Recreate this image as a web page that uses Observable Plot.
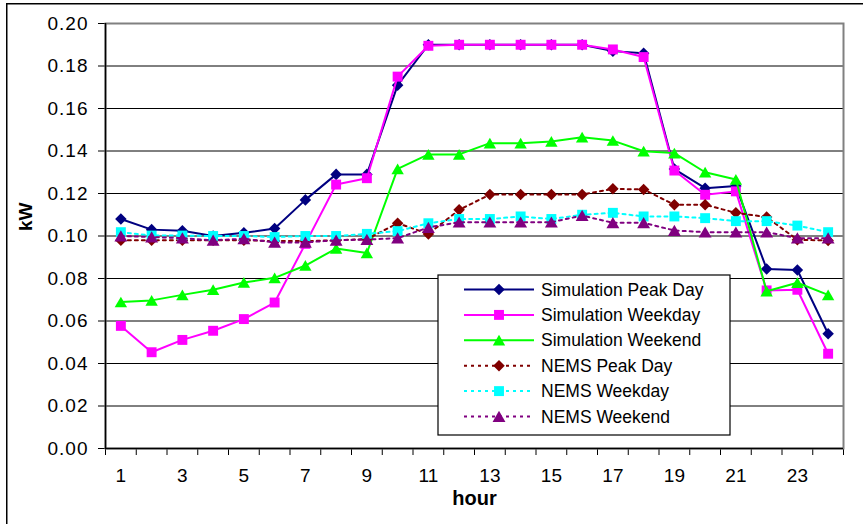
<!DOCTYPE html>
<html>
<head>
<meta charset="utf-8">
<script src="https://cdn.jsdelivr.net/npm/d3@7"></script>
<script src="https://cdn.jsdelivr.net/npm/@observablehq/plot@0.6"></script>
<style>
  html, body { margin: 0; padding: 0; background: #fff; overflow: hidden; }
  #wrap { position: relative; width: 863px; height: 524px; overflow: hidden; }
  svg { font-family: "Liberation Sans", Arial, sans-serif; display: block; }
</style>
</head>
<body>
<div id="wrap"></div>
<script>
const hours = [1,2,3,4,5,6,7,8,9,10,11,12,13,14,15,16,17,18,19,20,21,22,23,24];
const hourLabels = [1,3,5,7,9,11,13,15,17,19,21,23];
const yTicks = [0,0.02,0.04,0.06,0.08,0.10,0.12,0.14,0.16,0.18,0.20];

const simPeak    = [0.108,0.103,0.1025,0.100,0.1015,0.1035,0.117,0.129,0.129,0.171,0.190,0.190,0.190,0.190,0.190,0.190,0.187,0.186,0.1315,0.1225,0.1235,0.0845,0.084,0.054];
const simWeekday = [0.0577,0.0453,0.0511,0.0554,0.0609,0.0687,0.0963,0.1242,0.1272,0.175,0.1895,0.190,0.190,0.190,0.190,0.190,0.1878,0.1842,0.1308,0.1194,0.121,0.0744,0.0747,0.0446];
const simWeekend = [0.0689,0.0697,0.0723,0.0747,0.0781,0.0803,0.0861,0.0941,0.092,0.1316,0.1384,0.1384,0.1437,0.1437,0.1445,0.1465,0.1449,0.1399,0.139,0.130,0.1266,0.074,0.078,0.0723];
const nemsPeak    = [0.098,0.098,0.098,0.098,0.098,0.0976,0.0976,0.098,0.0985,0.106,0.101,0.1123,0.1195,0.1195,0.1195,0.1195,0.1222,0.1219,0.1147,0.1147,0.1109,0.1089,0.0982,0.0979];
const nemsWeekday = [0.1018,0.1002,0.1002,0.100,0.100,0.0995,0.100,0.100,0.101,0.1023,0.106,0.108,0.108,0.1092,0.108,0.110,0.1109,0.1092,0.1092,0.1084,0.107,0.107,0.1049,0.1018];
const nemsWeekend = [0.100,0.0995,0.099,0.098,0.0987,0.097,0.097,0.098,0.0983,0.099,0.104,0.1065,0.1065,0.1065,0.1065,0.1096,0.1062,0.1062,0.1026,0.1018,0.1018,0.1018,0.099,0.099];

const seriesNames = ["Simulation Peak Day","Simulation Weekday","Simulation Weekend","NEMS Peak Day","NEMS Weekday","NEMS Weekend"];
const seriesValues = [simPeak, simWeekday, simWeekend, nemsPeak, nemsWeekday, nemsWeekend];
const seriesColors = ["#000080","#FF00FF","#00FF00","#800000","#00FFFF","#800080"];
const seriesSymbols = ["diamond2","square","triangle","diamond2","square","triangle"];
const seriesDash = [null,null,null,"3,4","3,4","3,4"];
const seriesR = [5.2,5.6,4.6,5.2,5.6,4.8];

const series = seriesNames.map((name, i) => ({
  name, color: seriesColors[i], symbol: seriesSymbols[i], dash: seriesDash[i], r: seriesR[i],
  data: hours.map((h, j) => ({hour: h, value: seriesValues[i][j]}))
}));

const marks = [
  Plot.ruleY(yTicks.filter(v => v > 0 && v < 0.2), {stroke: "#000", strokeWidth: 1}),
  Plot.frame({stroke: "#808080", strokeWidth: 2}),
  Plot.ruleX([0.5], {stroke: "#000", strokeWidth: 1.5}),
  Plot.ruleY([0], {stroke: "#000", strokeWidth: 1.5})
];
for (const s of series) {
  marks.push(Plot.line(s.data, {x: "hour", y: "value", stroke: s.color, strokeWidth: 2, strokeDasharray: s.dash}));
  marks.push(Plot.dot(s.data, {x: "hour", y: "value", symbol: () => s.symbol, fill: s.color, stroke: "none", r: s.r, dy: s.symbol === "triangle" ? 1.7 : 0}));
}
marks.push(Plot.text(hourLabels, {x: d => d, frameAnchor: "bottom", dy: 33, text: d => String(d), fontSize: 19, fill: "#000"}));
marks.push(Plot.text(["hour"], {frameAnchor: "bottom", dy: 56, text: d => d, fontSize: 20, fontWeight: "bold", fill: "#000"}));
marks.push(Plot.text(["kW"], {frameAnchor: "left", dx: -80, dy: -5, rotate: -90, text: d => d, fontSize: 19, fontWeight: "bold", fill: "#000"}));

const chart = Plot.plot({
  width: 863,
  height: 524,
  marginLeft: 105,
  marginRight: 20,
  marginTop: 23,
  marginBottom: 76,
  style: {fontSize: "19px", fontFamily: "'Liberation Sans', Arial, sans-serif", background: "#fff", color: "#000"},
  x: {domain: [0.5, 24.5], ticks: hours.map(h => h - 0.5).concat([24.5]), tickFormat: () => "", tickSize: 7, label: null},
  y: {domain: [0, 0.2], ticks: yTicks, tickFormat: d3.format(".2f"), tickSize: 7, tickPadding: 10, label: null},
  marks
});
document.getElementById("wrap").appendChild(chart);

const svg = d3.select(chart);
// widen y tick labels slightly to match reference glyph widths
svg.selectAll("g[aria-label='y-axis tick label'] text, g[aria-label='y-axis'] text").attr("letter-spacing", "1px");

// outer chart border (cropped on right and bottom)
svg.append("rect").attr("x", 6.75).attr("y", 3.75).attr("width", 1000).attr("height", 1000)
  .attr("fill", "none").attr("stroke", "#000").attr("stroke-width", 1.5);

// Legend
const lg = svg.append("g").attr("text-anchor", "start");
lg.append("rect").attr("x", 438).attr("y", 275).attr("width", 292).attr("height", 160)
  .attr("fill", "#fff").attr("stroke", "#000").attr("stroke-width", 1.2);
const symMap = {diamond2: d3.symbolDiamond2, square: d3.symbolSquare, triangle: d3.symbolTriangle};
series.forEach((s, i) => {
  const cy = 289.5 + i * 25.4;
  lg.append("line").attr("x1", 464).attr("x2", 534).attr("y1", cy).attr("y2", cy)
    .attr("stroke", s.color).attr("stroke-width", 2).attr("stroke-dasharray", s.dash);
  lg.append("path").attr("d", d3.symbol(symMap[s.symbol], Math.PI * s.r * s.r)())
    .attr("transform", `translate(499,${cy + (s.symbol === "triangle" ? 1.7 : 0)})`).attr("fill", s.color);
  lg.append("text").attr("x", 541).attr("y", cy).attr("dy", "0.35em")
    .attr("text-anchor", "start").attr("font-size", 17.5).attr("fill", "#000").text(s.name);
});
</script>
</body>
</html>
